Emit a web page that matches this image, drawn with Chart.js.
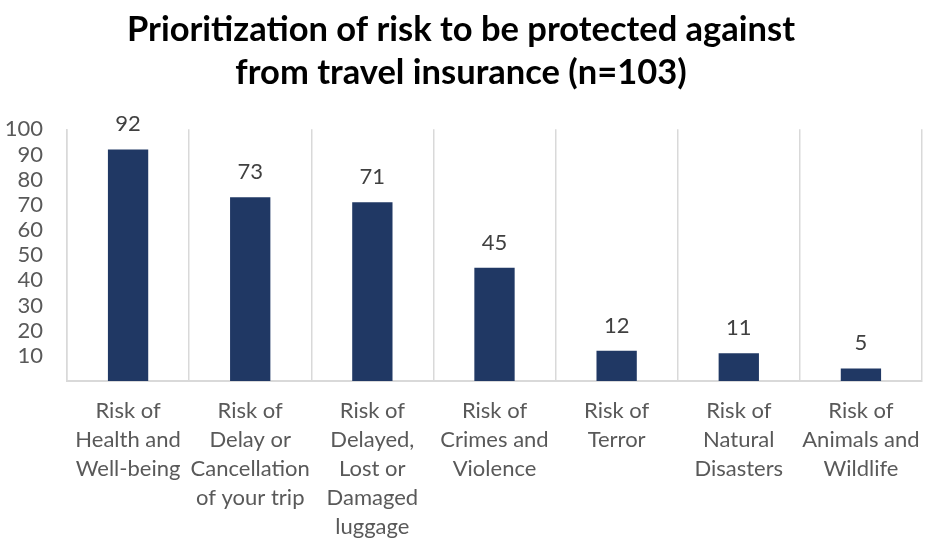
<!DOCTYPE html>
<html>
<head>
<meta charset="utf-8">
<script src="https://cdn.jsdelivr.net/npm/chart.js@4"></script>
<style>
  html, body { margin: 0; padding: 0; background: #fff; }
  #wrap { width: 925px; height: 541px; }
</style>
</head>
<body>
<div id="wrap"><canvas id="riskChart" width="925" height="541"></canvas></div>
<script>
const categories = [
    ['Risk of', 'Health and', 'Well-being'],
    ['Risk of', 'Delay or', 'Cancellation', 'of your trip'],
    ['Risk of', 'Delayed,', 'Lost or', 'Damaged', 'luggage'],
    ['Risk of', 'Crimes and', 'Violence'],
    ['Risk of', 'Terror'],
    ['Risk of', 'Natural', 'Disasters'],
    ['Risk of', 'Animals and', 'Wildlife']
];
const counts = [92, 73, 71, 45, 12, 11, 5];
const yTicks = [10, 20, 30, 40, 50, 60, 70, 80, 90, 100];
const titleLines = ['Prioritization of risk to be protected against', 'from travel insurance (n=103)'];

const FONT = 'Lato, "Open Sans", sans-serif';

// value labels above bars
const barLabels = {
    id: 'barLabels',
    afterDatasetsDraw(chart) {
        const ctx = chart.ctx;
        const meta = chart.getDatasetMeta(0);
        ctx.save();
        ctx.font = '22px ' + FONT;
        ctx.fillStyle = '#404040';
        ctx.textAlign = 'center';
        ctx.textBaseline = 'alphabetic';
        meta.data.forEach((bar, i) => {
            ctx.fillText(String(counts[i]), bar.x, bar.y - 18);
        });
        ctx.restore();
    }
};

const ctx = document.getElementById('riskChart').getContext('2d');
new Chart(ctx, {
    type: 'bar',
    data: {
        labels: categories,
        datasets: [{
            data: counts,
            backgroundColor: '#203864',
            barPercentage: 1,
            categoryPercentage: 0.33
        }]
    },
    options: {
        responsive: false,
        animation: false,
        layout: { padding: { left: 0, right: 3, top: 0, bottom: 0 } },
        plugins: {
            legend: { display: false },
            tooltip: { enabled: false },
            title: {
                display: true,
                text: titleLines,
                color: '#000',
                font: { family: FONT, size: 34.5, weight: 'bold', lineHeight: 1.25 },
                padding: { top: 8, bottom: 35 }
            }
        },
        scales: {
            x: {
                afterFit(scale) {
                    scale.height = 160;
                    scale.paddingLeft = 0;
                    scale.paddingRight = 0;
                },
                grid: { display: true, offset: true, color: '#d9d9d9', drawTicks: false, lineWidth: 1.5 },
                border: { display: true, color: '#d9d9d9', width: 2 },
                ticks: {
                    color: '#595959',
                    font: { family: FONT, size: 22, lineHeight: 1.32 },
                    padding: 15,
                    maxRotation: 0,
                    autoSkip: false
                }
            },
            y: {
                min: 0,
                max: 100,
                afterFit(scale) { scale.width = 67; },
                afterBuildTicks(scale) { scale.ticks = yTicks.map(v => ({ value: v })); },
                grid: { display: false, drawTicks: false },
                border: { display: true, color: '#d9d9d9', width: 1.5 },
                ticks: {
                    color: '#595959',
                    font: { family: FONT, size: 22 },
                    padding: 24,
                    autoSkip: false
                }
            }
        }
    },
    plugins: [barLabels]
});
</script>
</body>
</html>
